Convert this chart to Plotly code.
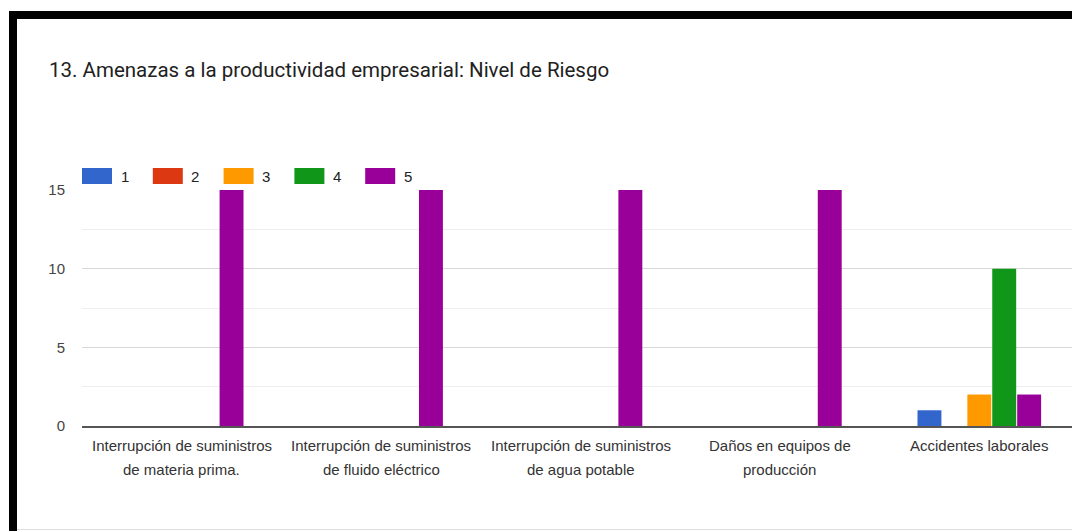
import plotly.graph_objects as go

categories = [
    "Interrupción de suministros<br>de materia prima.",
    "Interrupción de suministros<br>de fluido eléctrico",
    "Interrupción de suministros<br>de agua potable",
    "Daños en equipos de<br>producción",
    "Accidentes laborales",
]
series_names = ["1", "2", "3", "4", "5"]
s1 = [0, 0, 0, 0, 1]
s2 = [0, 0, 0, 0, 0]
s3 = [0, 0, 0, 0, 2]
s4 = [0, 0, 0, 0, 10]
s5 = [15, 15, 15, 15, 2]
series_values = [s1, s2, s3, s4, s5]
colors = ["#3366cc", "#dc3912", "#ff9900", "#109618", "#990099"]
y_ticks = [0, 5, 10, 15]
title_text = "13. Amenazas a la productividad empresarial: Nivel de Riesgo"

W, H = 1072, 531
L, R, T, B = 82, 0, 190, 105
pw = W - L - R
ph = H - T - B
FONT = "Liberation Sans, Arial"
GROUP_PX = 199.4


def px_x(p):
    return (p - L) / pw


def px_y(p):
    return (H - B - p) / ph


fig = go.Figure()
xs = list(range(len(categories)))
for name, vals, col in zip(series_names, series_values, colors):
    fig.add_trace(go.Bar(x=xs, y=vals, name=name, marker=dict(color=col, line=dict(width=0)),
                         showlegend=False))

shapes = []
annotations = []
# custom legend
for i, (name, col) in enumerate(zip(series_names, colors)):
    x0 = 82 + i * 70.8
    shapes.append(dict(type="rect", xref="paper", yref="paper",
                       x0=px_x(x0), x1=px_x(x0 + 30), y0=px_y(184), y1=px_y(168),
                       fillcolor=col, line=dict(width=0)))
    annotations.append(dict(text=name, xref="paper", yref="paper", x=px_x(x0 + 36.5), y=px_y(176.5),
                            xanchor="left", yanchor="middle", showarrow=False,
                            font=dict(family=FONT, size=15, color="#222222")))

# category labels (two lines with wider spacing)
for xi, cat in zip(xs, categories):
    for j, line in enumerate(cat.split("<br>")):
        annotations.append(dict(text=line, xref="x", yref="paper", x=xi, y=px_y(445 + 24 * j),
                                xanchor="center", yanchor="middle", showarrow=False,
                                font=dict(family=FONT, size=15, color="#333333")))

# frame decoration
shapes.append(dict(type="rect", xref="paper", yref="paper", x0=px_x(9), x1=px_x(17),
                   y0=px_y(531), y1=px_y(11), fillcolor="black", line=dict(width=0), layer="above"))
shapes.append(dict(type="rect", xref="paper", yref="paper", x0=px_x(9), x1=px_x(1072),
                   y0=px_y(19), y1=px_y(11), fillcolor="black", line=dict(width=0), layer="above"))
shapes.append(dict(type="line", xref="paper", yref="paper", x0=px_x(17), x1=px_x(1072),
                   y0=px_y(529.5), y1=px_y(529.5), line=dict(color="#dddddd", width=1)))

fig.update_layout(
    width=W, height=H,
    margin=dict(l=L, r=R, t=T, b=B, pad=0),
    paper_bgcolor="white", plot_bgcolor="white",
    barmode="group", bargap=0.375, bargroupgap=0.04,
    title=dict(text=title_text, x=49 / W, xanchor="left", y=1 - 70 / H, yanchor="middle",
               font=dict(family="Roboto", size=20.5, color="#212121")),
    shapes=shapes, annotations=annotations,
    xaxis=dict(tickmode="array", tickvals=xs, ticktext=["" for _ in xs],
               range=[-0.5, -0.5 + pw / GROUP_PX],
               showgrid=False, zeroline=False, showline=True, linecolor="#555555", linewidth=2,
               ticks="", fixedrange=True),
    yaxis=dict(range=[0, 15], tickmode="array", tickvals=y_ticks, showgrid=True, gridcolor="#d9d9d9",
               gridwidth=1, zeroline=False, showline=False, ticks="", ticklabelstandoff=16,
               minor=dict(dtick=2.5, tick0=0, showgrid=True, gridcolor="#eeeeee", gridwidth=1),
               tickfont=dict(family=FONT, size=15, color="#444444"),
               fixedrange=True),
    font=dict(family=FONT),
)
fig.write_html("out.html", config={"displayModeBar": False},
               post_script="document.body.style.margin='0';document.body.style.overflow='hidden';")
